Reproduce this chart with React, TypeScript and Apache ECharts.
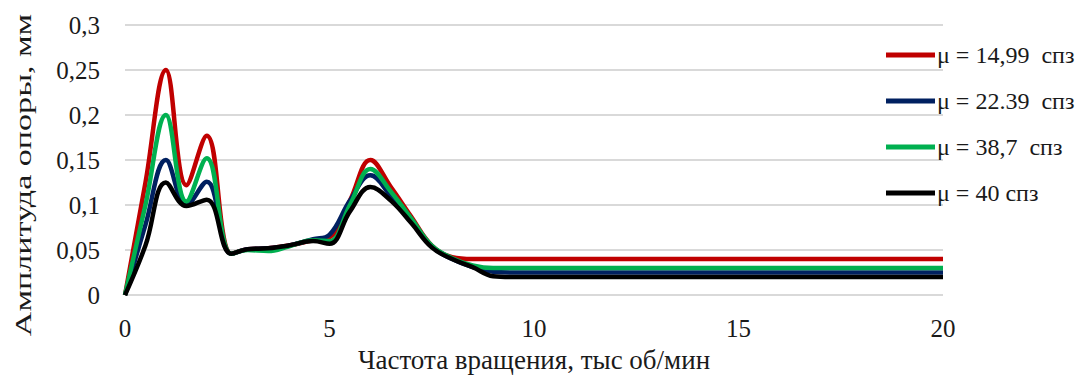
import React, { useEffect, useRef } from "react";
import * as echarts from "echarts";

// Rotation speed, thousand rpm
const rpm = [0, 0.5, 1, 1.5, 2, 2.6, 3, 3.5, 4, 4.6, 5, 5.5, 6, 6.5, 7, 7.5, 8, 8.5, 9, 9.5, 20];

// Support amplitude, mm, for each oil viscosity
const mu1499 = [0, 0.125, 0.25, 0.122, 0.177, 0.046, 0.051, 0.052, 0.055, 0.061, 0.064, 0.105, 0.15, 0.12, 0.087, 0.055, 0.042, 0.04, 0.04, 0.04, 0.04];
const mu2239 = [0, 0.078, 0.15, 0.1, 0.126, 0.046, 0.051, 0.052, 0.055, 0.062, 0.067, 0.105, 0.133, 0.11, 0.083, 0.054, 0.04, 0.031, 0.026, 0.025, 0.025];
const mu387 = [0, 0.1, 0.2, 0.104, 0.152, 0.046, 0.05, 0.049, 0.054, 0.061, 0.06, 0.1, 0.14, 0.115, 0.085, 0.055, 0.041, 0.033, 0.03, 0.03, 0.03];
const mu40 = [0, 0.055, 0.125, 0.099, 0.106, 0.046, 0.051, 0.052, 0.055, 0.06, 0.057, 0.093, 0.12, 0.105, 0.08, 0.053, 0.04, 0.031, 0.021, 0.02, 0.02];

const seriesNames = ["μ = 14,99  спз", "μ = 22.39  спз", "μ = 38,7  спз", "μ = 40 спз"];
const seriesColors = ["#c00000", "#002060", "#00b050", "#000000"];
const seriesValues = [mu1499, mu2239, mu387, mu40];

const xTitle = "Частота вращения, тыс об/мин";
const yTitle = "Амплитуда опоры, мм";

const FONT = "'Liberation Serif', 'Times New Roman', serif";
const TEXT = "#1a1a1a";

export default function App() {
  const ref = useRef<HTMLDivElement>(null);

  useEffect(() => {
    if (!ref.current) return;
    const chart = echarts.init(ref.current, undefined, { renderer: "svg" });
    chart.setOption({
      animation: false,
      backgroundColor: "#ffffff",
      textStyle: { fontFamily: FONT },
      grid: { left: 125, right: 146, top: 25, bottom: 80, containLabel: false },
      legend: {
        orient: "vertical",
        left: 881,
        top: 38,
        itemWidth: 49,
        itemHeight: 5,
        itemGap: 22,
        icon: "rect",
        data: seriesNames,
        textStyle: { fontFamily: FONT, fontSize: 24, color: TEXT, padding: [0, 0, 0, -3] },
      },
      graphic: [
        {
          type: "text",
          x: 23,
          y: 175,
          rotation: Math.PI / 2,
          scaleX: 1.42,
          style: {
            text: yTitle,
            fontFamily: FONT,
            fontSize: 24,
            fill: TEXT,
            align: "center",
            verticalAlign: "middle",
          },
        },
      ],
      xAxis: {
        type: "value",
        min: 0,
        max: 20,
        interval: 5,
        axisLine: { show: false },
        axisTick: { show: false },
        splitLine: { show: false },
        axisLabel: { fontFamily: FONT, fontSize: 25, color: TEXT, margin: 21 },
        name: xTitle,
        nameLocation: "middle",
        nameGap: 48,
        nameTextStyle: { fontFamily: FONT, fontSize: 27, color: TEXT },
      },
      yAxis: {
        type: "value",
        min: 0,
        max: 0.3,
        interval: 0.05,
        axisLine: { show: false },
        axisTick: { show: false },
        splitLine: { show: true, lineStyle: { color: "#d9d9d9", width: 2 } },
        axisLabel: {
          fontFamily: FONT,
          fontSize: 25,
          color: TEXT,
          margin: 25,
          formatter: (v: number) => String(+v.toFixed(2)).replace(".", ","),
        },
      },
      series: seriesNames.map((name, i) => ({
        name,
        type: "line",
        smooth: 0.4,
        symbol: "none",
        data: rpm.map((x, j) => [x, seriesValues[i][j]]),
        lineStyle: { color: seriesColors[i], width: 4.5 },
        itemStyle: { color: seriesColors[i] },
      })),
    });
    return () => chart.dispose();
  }, []);

  return (
    <div
      ref={ref}
      style={{ position: "fixed", left: 0, top: 0, width: 1089, height: 378, background: "#fff" }}
    />
  );
}
